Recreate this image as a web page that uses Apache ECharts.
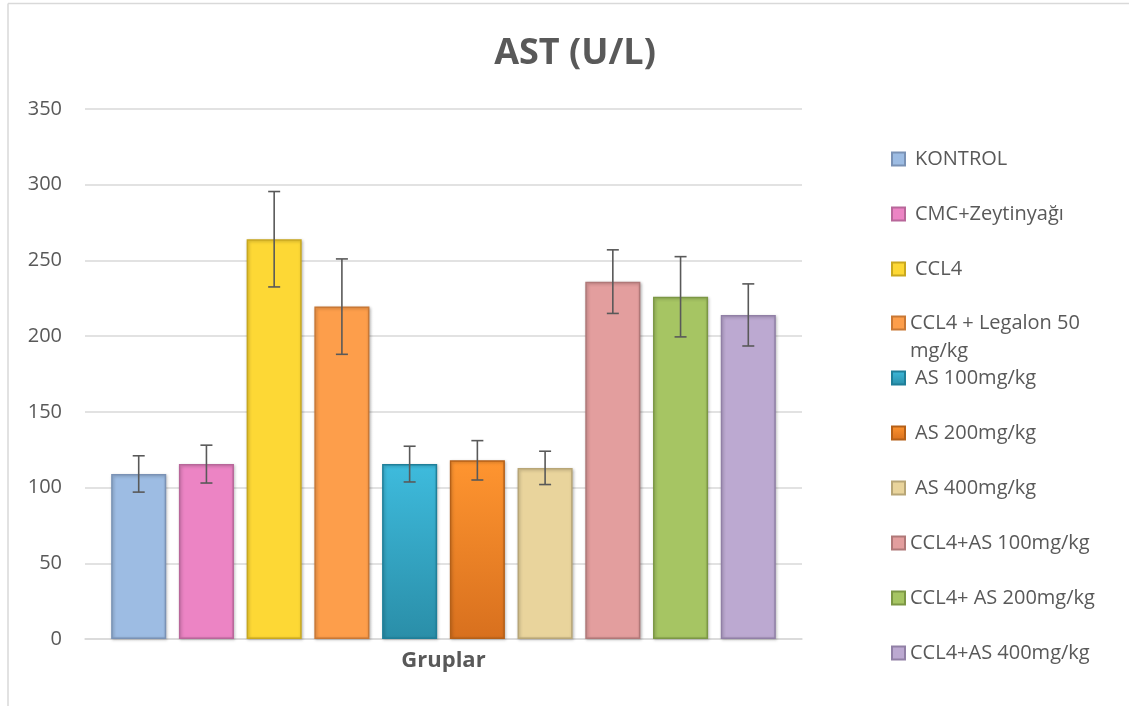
<!DOCTYPE html>
<html>
<head>
<meta charset="utf-8">
<script src="https://cdn.jsdelivr.net/npm/echarts@6/dist/echarts.min.js"></script>
<style>
html,body{margin:0;padding:0;background:#fff;}
#chart{width:1129px;height:706px;}
</style>
</head>
<body>
<div id="chart"></div>
<script>
// ---- data ----
const categories = ['Gruplar'];
const groupNames = ['KONTROL', 'CMC+Zeytinyağı', 'CCL4', 'CCL4 + Legalon 50 mg/kg', 'AS 100mg/kg', 'AS 200mg/kg', 'AS 400mg/kg', 'CCL4+AS 100mg/kg', 'CCL4+ AS 200mg/kg', 'CCL4+AS 400mg/kg'];
const means = [109, 115.5, 264, 219.5, 115.5, 118, 113, 236, 226, 214];
const errors = [12, 12.5, 31.5, 31.5, 11.8, 13, 11, 21, 26.5, 20.5];
const yTicks = [0, 50, 100, 150, 200, 250, 300, 350];

// ---- styles ----
const colorsTop = ['#9DBCE3', '#EC84C4', '#FDD835', '#FD9E4B', '#3EBBDD', '#FF9530', '#E9D49C', '#E39E9E', '#A6C563', '#BCA9D1'];
const colorsBottom = ['#9DBCE3', '#EC84C4', '#FDD835', '#FD9E4B', '#2A8EA8', '#D8701E', '#E9D49C', '#E39E9E', '#A6C563', '#BCA9D1'];
const borders = ['#7A92B5', '#B8679A', '#C9A81F', '#C97835', '#1F7F99', '#B56018', '#B8A677', '#B07878', '#7C9745', '#9180A6'];
const indented = [true, true, true, false, true, true, true, false, false, false];

const barCategoryGap = 0.073;
const barGap = 0.23;
const n = groupNames.length;

const chart = echarts.init(document.getElementById('chart'));

const series = groupNames.map((name, i) => ({
  name: name,
  type: 'bar',
  data: [means[i]],
  barGap: (barGap * 100) + '%',
  barCategoryGap: (barCategoryGap * 100) + '%',
  itemStyle: {
    color: {
      type: 'linear', x: 0, y: 0, x2: 0, y2: 1,
      colorStops: [
        {offset: 0, color: colorsTop[i]},
        {offset: 1, color: colorsBottom[i]}
      ]
    },
    borderColor: borders[i],
    borderWidth: 1.5,
    shadowColor: 'rgba(0,0,0,0.25)',
    shadowBlur: 3,
    shadowOffsetX: 1,
    shadowOffsetY: 1
  },
  emphasis: {disabled: true}
}));

series.push({
  name: 'err',
  type: 'custom',
  z: 10,
  encode: {x: 0, y: [1, 2]},
  data: means.map((m, i) => [0, m - errors[i], m + errors[i], i]),
  renderItem: function (params, api) {
    const idx = api.value(3);
    const lo = api.coord([api.value(0), api.value(1)]);
    const hi = api.coord([api.value(0), api.value(2)]);
    const band = api.size([1, 0])[0];
    const avail = band * (1 - barCategoryGap);
    const bw = avail / (n + (n - 1) * barGap);
    const x = lo[0] - avail / 2 + idx * bw * (1 + barGap) + bw / 2;
    const cap = 6;
    const st = {stroke: '#595959', lineWidth: 1.6};
    return {
      type: 'group',
      children: [
        {type: 'line', shape: {x1: x, y1: hi[1], x2: x, y2: lo[1]}, style: st},
        {type: 'line', shape: {x1: x - cap, y1: hi[1], x2: x + cap, y2: hi[1]}, style: st},
        {type: 'line', shape: {x1: x - cap, y1: lo[1], x2: x + cap, y2: lo[1]}, style: st}
      ]
    };
  },
  silent: true,
  tooltip: {show: false}
});

const legendText = {fontFamily: 'Open Sans', fontSize: 20, color: '#595959', lineHeight: 28};
function legendItems(from, to) {
  return groupNames.slice(from, to).map((name, k) => ({
    name: name,
    textStyle: {padding: [0, 0, 0, indented[from + k] ? 5 : 0]}
  }));
}
const legendBase = {
  orient: 'vertical',
  left: 886,
  itemWidth: 13,
  itemHeight: 13,
  itemGap: 27,
  icon: 'rect',
  textStyle: legendText,
  formatter: function (name) { return name.replace(' 50 mg/kg', ' 50\nmg/kg').replace(/^CCL4 \+ Legalon/, '\nCCL4 + Legalon'); }
};

chart.setOption({
  backgroundColor: '#fff',
  animation: false,
  title: {
    text: 'AST (U/L)',
    left: 570,
    textAlign: 'center',
    top: 31,
    textStyle: {fontFamily: 'Open Sans', fontWeight: 'bold', fontSize: 36, color: '#595959'}
  },
  legend: [
    Object.assign({}, legendBase, {top: 140, data: legendItems(0, 3)}),
    Object.assign({}, legendBase, {top: 276, data: legendItems(3, 4)}),
    Object.assign({}, legendBase, {top: 359, data: legendItems(4, 10)})
  ],
  grid: {left: 85, right: 327, top: 109, bottom: 67},
  xAxis: {
    type: 'category',
    data: categories,
    axisLine: {show: true, lineStyle: {color: '#D9D9D9', width: 1.5}},
    axisTick: {show: false},
    axisLabel: {fontFamily: 'Open Sans', fontWeight: 'bold', fontSize: 22, color: '#595959', margin: 11}
  },
  yAxis: {
    type: 'value',
    min: 0,
    max: yTicks[yTicks.length - 1],
    interval: yTicks[1] - yTicks[0],
    axisLine: {show: false},
    axisTick: {show: false},
    splitLine: {lineStyle: {color: '#D9D9D9', width: 1.5}},
    axisLabel: {fontFamily: 'Open Sans', fontSize: 20, color: '#595959', margin: 23}
  },
  graphic: [
    {type: 'line', shape: {x1: 8, y1: 3.5, x2: 1129, y2: 3.5}, style: {stroke: '#D9D9D9', lineWidth: 1.5}},
    {type: 'line', shape: {x1: 8, y1: 3.5, x2: 8, y2: 706}, style: {stroke: '#D9D9D9', lineWidth: 1.5}}
  ],
  series: series
});
</script>
</body>
</html>
